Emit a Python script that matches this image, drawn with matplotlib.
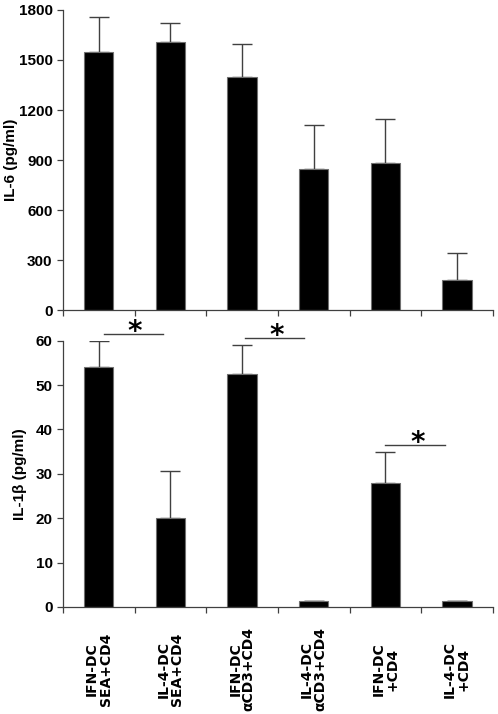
import numpy as np
import matplotlib
matplotlib.use("Agg")
import matplotlib.pyplot as plt

# groups and values
groups = ["IFN-DC\nSEA+CD4", "IL-4-DC\nSEA+CD4", "IFN-DC\n\u03b1CD3+CD4",
          "IL-4-DC\n\u03b1CD3+CD4", "IFN-DC\n+CD4", "IL-4-DC\n+CD4"]
il6 = [1550, 1605, 1400, 845, 885, 180]
il6_err = [205, 117, 195, 267, 261, 164]
il1b = [54, 20, 52.5, 1.3, 28, 1.3]
il1b_err = [6, 10.7, 6.5, 0, 7, 0]
# significance pairs (x start, x end, line height, star x, star y)
sig_x0 = [0.07, 2.04, 4.0]
sig_x1 = [0.89, 2.86, 4.84]
sig_y = [61.5, 60.6, 36.5]
star_x = [0.5, 2.48, 4.45]
star_y = [61.9, 61.0, 36.9]

tick_font = ["Liberation Sans", "DejaVu Sans"]

fig = plt.figure(figsize=(4.98, 7.14), dpi=100)
ax1 = fig.add_axes([0.1265, 0.5658, 0.863, 0.4202])
ax2 = fig.add_axes([0.1265, 0.1499, 0.863, 0.3729])

x = np.arange(len(groups))


def style(ax, vals, ymax, step):
    ax.bar(x, vals, width=0.41, color="black",
           edgecolor="#707070", linewidth=0.8, zorder=2)
    ax.set_xlim(-0.5, len(groups) - 0.5)
    ax.set_ylim(0, ymax)
    ax.set_yticks(np.arange(0, ymax + 1, step))
    ax.set_xticks(np.arange(-0.5, len(groups)), minor=False)
    ax.set_xticklabels([])
    ax.spines["top"].set_visible(False)
    ax.spines["right"].set_visible(False)
    for s in ["left", "bottom"]:
        ax.spines[s].set_color("#404040")
        ax.spines[s].set_linewidth(0.9)
    ax.tick_params(axis="both", direction="out", length=4, width=0.9, color="#404040")
    for lab in ax.get_yticklabels():
        lab.set_family(tick_font)
        lab.set_fontweight("bold")
        lab.set_fontsize(11)


style(ax1, il6, 1800, 300)
ax1.errorbar(x, il6, yerr=[np.zeros(len(il6)), il6_err], fmt="none",
             ecolor="#404040", elinewidth=1, capsize=7, capthick=1, zorder=1)
ax1.set_ylabel("IL-6 (pg/ml)", fontsize=11, fontweight="bold", family=tick_font)
ax1.yaxis.set_label_coords(-0.105, 0.5)

style(ax2, il1b, 60, 10)
ax2.errorbar(x, il1b, yerr=[np.zeros(len(il1b)), il1b_err], fmt="none",
             ecolor="#404040", elinewidth=1, capsize=7, capthick=1, zorder=1)
ax2.set_ylabel("IL-1\u03b2 (pg/ml)", fontsize=11, fontweight="bold", family=tick_font)
ax2.yaxis.set_label_coords(-0.084, 0.5)

# group labels under the lower panel
ax2.set_xticks(x, minor=True)
ax2.set_xticklabels(groups, minor=True, rotation=90, fontsize=10,
                    fontweight="bold", va="center", ha="center",
                    multialignment="center", linespacing=0.95)
ax2.tick_params(axis="x", which="minor", length=0, pad=45)

for x0, x1, yl, sx, sy in zip(sig_x0, sig_x1, sig_y, star_x, star_y):
    ax2.plot([x0, x1], [yl, yl], color="#404040", linewidth=1, clip_on=False)
    ax2.text(sx, sy, "*", fontsize=20, fontweight="bold", ha="center",
             va="center", clip_on=False)

plt.savefig("out.png", dpi=100)
